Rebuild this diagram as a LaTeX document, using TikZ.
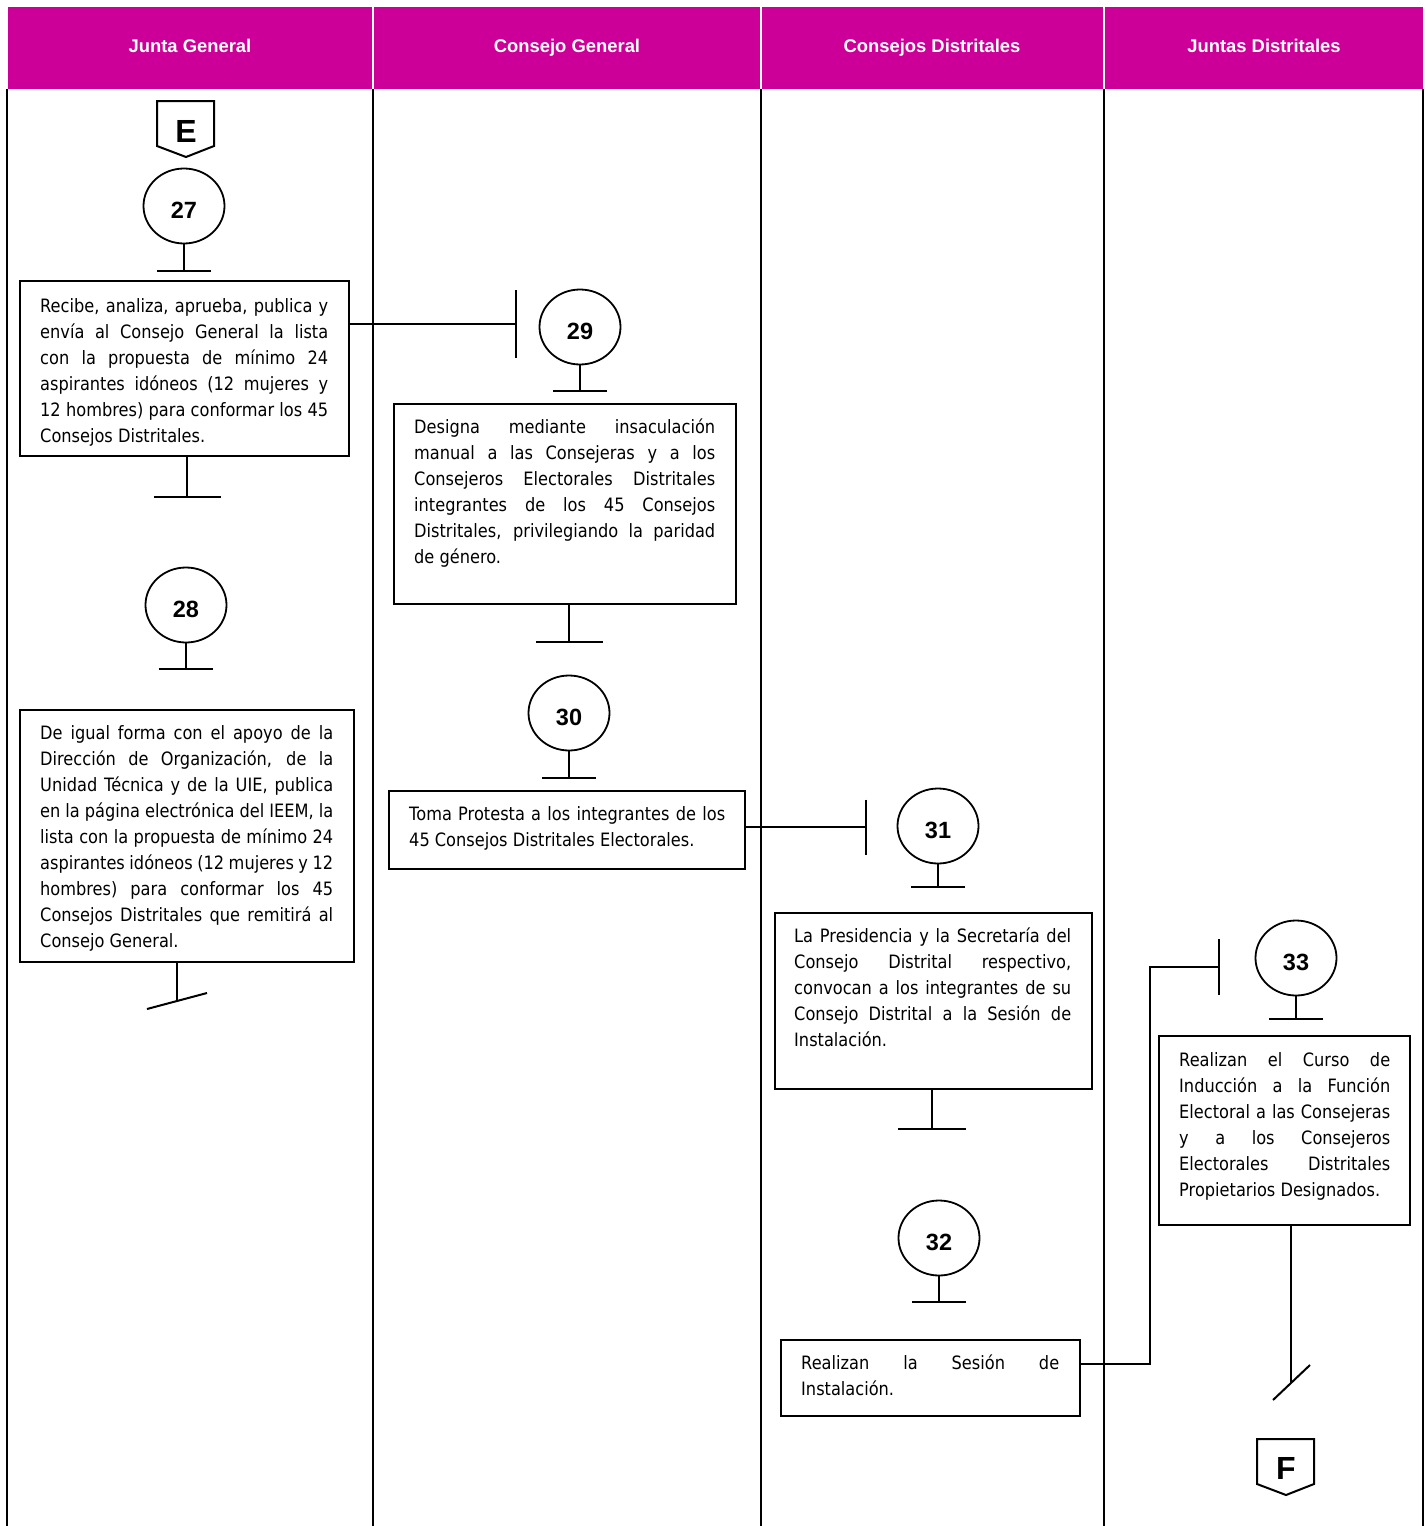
\documentclass[tikz,border=0pt]{standalone}
\usepackage{fontspec}
\usetikzlibrary{arrows.meta,shapes.geometric}
\newfontfamily\boxfont[FakeStretch=0.88]{DejaVu Sans}
\newfontfamily\headfont{Liberation Sans}
\definecolor{lanemag}{RGB}{204,0,153}
\tolerance=10000
\hbadness=10000
\hyphenpenalty=10000
\begin{document}
\begin{tikzpicture}[x=1pt,y=-1pt,
  headtxt/.style={anchor=base, text=white, inner sep=0, font=\headfont\bfseries\fontsize{18.4}{22}\selectfont},
  lane/.style={line width=2.6pt},
  box/.style={draw, line width=1.8pt, rectangle, inner sep=0},
  txt/.style={anchor=north west, inner sep=0, align=justify, font=\boxfont\fontsize{18.4}{26}\selectfont},
  stepnum/.style={draw, ellipse, line width=1.8pt, minimum width=81pt, minimum height=75pt, inner sep=0, text height=25pt, text depth=0pt, font=\headfont\bfseries\fontsize{23.5}{26}\selectfont},
  conn/.style={line width=2pt},
  tee/.style={conn, -{Bar[width=#1]}},
  offpage/.style={anchor=base, inner sep=0, font=\headfont\bfseries\fontsize{32}{34}\selectfont},
]
\useasboundingbox (0,0) rectangle (1427,1526);
\fill[white] (0,0) rectangle (1427,1526);

% header
\fill[lanemag] (8,7) rectangle (372,89);
\fill[lanemag] (374,7) rectangle (760,89);
\fill[lanemag] (762,7) rectangle (1103,89);
\fill[lanemag] (1105,7) rectangle (1423,89);
\node[headtxt] (h1) at (190,52) {Junta General};
\node[headtxt] (h2) at (567,52) {Consejo General};
\node[headtxt] (h3) at (932,52) {Consejos Distritales};
\node[headtxt] (h4) at (1264,52) {Juntas Distritales};

% lanes
\draw[lane] (7,89) -- (7,1526);
\draw[lane] (373,89) -- (373,1526);
\draw[lane] (761,89) -- (761,1526);
\draw[lane] (1104,89) -- (1104,1526);
\draw[lane] (1423,89) -- (1423,1526);

% off-page connector E
\draw[conn] (157,101) -- (214,101) -- (214,146) -- (186,157) -- (157,146) -- cycle;
\node[offpage] (E) at (186,142) {E};

% circles
\node[stepnum] (c27) at (184,206) {27};
\node[stepnum] (c28) at (186,605) {28};
\node[stepnum] (c29) at (580,327) {29};
\node[stepnum] (c30) at (569,713) {30};
\node[stepnum] (c31) at (938,826) {31};
\node[stepnum] (c32) at (939,1238) {32};
\node[stepnum] (c33) at (1296,958) {33};

% boxes
\node[box, minimum width=329pt, minimum height=175pt] (b1) at (184.5,368.5) {};
\node[box, minimum width=334pt, minimum height=252pt] (b2) at (187,836) {};
\node[box, minimum width=342pt, minimum height=200pt] (b3) at (565,504) {};
\node[box, minimum width=356pt, minimum height=78pt] (b4) at (567,830) {};
\node[box, minimum width=317pt, minimum height=176pt] (b5) at (933.5,1001) {};
\node[box, minimum width=299pt, minimum height=76pt] (b6) at (930.5,1378) {};
\node[box, minimum width=251pt, minimum height=189pt] (b7) at (1284.5,1130.5) {};

% texts
\node[txt, text width=288pt] (t1) at (40,294) {\strut Recibe, analiza, aprueba, publica y\linebreak envía al Consejo General la lista\linebreak con la propuesta de mínimo 24\linebreak aspirantes idóneos (12 mujeres y\linebreak 12 hombres) para conformar los 45\linebreak Consejos Distritales.};
\node[txt, text width=293pt] (t2) at (40,721) {\strut De igual forma con el apoyo de la\linebreak Dirección de Organización, de la\linebreak Unidad Técnica y de la UIE, publica\linebreak en la página electrónica del IEEM, la\linebreak lista con la propuesta de mínimo 24\linebreak aspirantes idóneos (12 mujeres y 12\linebreak hombres) para conformar los 45\linebreak Consejos Distritales que remitirá al\linebreak Consejo General.};
\node[txt, text width=301pt] (t3) at (414,415) {\strut Designa mediante insaculación\linebreak manual a las Consejeras y a los\linebreak Consejeros Electorales Distritales\linebreak integrantes de los 45 Consejos\linebreak Distritales, privilegiando la paridad\linebreak de género.};
\node[txt, text width=316pt] (t4) at (409,802) {\strut Toma Protesta a los integrantes de los\linebreak 45 Consejos Distritales Electorales.};
\node[txt, text width=277pt] (t5) at (794,924) {\strut La Presidencia y la Secretaría del\linebreak Consejo Distrital respectivo,\linebreak convocan a los integrantes de su\linebreak Consejo Distrital a la Sesión de\linebreak Instalación.};
\node[txt, text width=258pt] (t6) at (801,1351) {\strut Realizan la Sesión de\linebreak Instalación.};
\node[txt, text width=211pt] (t7) at (1179,1048) {\strut Realizan el Curso de\linebreak Inducción a la Función\linebreak Electoral a las Consejeras\linebreak y a los Consejeros\linebreak Electorales Distritales\linebreak Propietarios Designados.};

% off-page connector F
\draw[conn] (1257,1439) -- (1314,1439) -- (1314,1484) -- (1286,1495) -- (1257,1484) -- cycle;
\node[offpage] (F) at (1286,1479) {F};

% stems from circles to boxes
\coordinate (k27) at (184,272);
\draw[tee=54pt] (c27.south) -- (k27);
\coordinate (k28) at (186,670);
\draw[tee=54pt] (c28.south) -- (k28);
\coordinate (k29) at (580,392);
\draw[tee=54pt] (c29.south) -- (k29);
\coordinate (k30) at (569,779);
\draw[tee=54pt] (c30.south) -- (k30);
\coordinate (k31) at (938,888);
\draw[tee=54pt] (c31.south) -- (k31);
\coordinate (k32) at (939,1303);
\draw[tee=54pt] (c32.south) -- (k32);
\coordinate (k33) at (1296,1020);
\draw[tee=54pt] (c33.south) -- (k33);

% stems out of boxes
\coordinate (o1) at (187,498);
\draw[tee=67pt] (b1.south -| o1) -- (o1);
\coordinate (o3) at (569,643);
\draw[tee=67pt] (b3.south -| o3) -- (o3);
\coordinate (o5) at (932,1130);
\draw[tee=68pt] (b5.south -| o5) -- (o5);
\coordinate (o2) at (177,1001);
\draw[conn] (b2.south -| o2) -- (o2);
\draw[conn] ([shift={(-30,8)}]o2) -- ([shift={(30,-8)}]o2);
\coordinate (o7) at (1291,1383);
\draw[conn] (b7.south -| o7) -- (o7);
\draw[conn] ([shift={(-18,17)}]o7) -- ([shift={(19,-18)}]o7);

% connectors between lanes
\coordinate (i29) at (517,324);
\draw[tee=68pt] (b1.east |- i29) -- (i29);
\coordinate (i31) at (867,827);
\draw[tee=55pt] (b4.east |- i31) -- (i31);
\coordinate (j6) at (1150,1364);
\coordinate (i33) at (1220,967);
\draw[tee=56pt] (b6.east |- j6) -- (j6) -- (j6 |- i33) -- (i33);
\end{tikzpicture}
\end{document}
